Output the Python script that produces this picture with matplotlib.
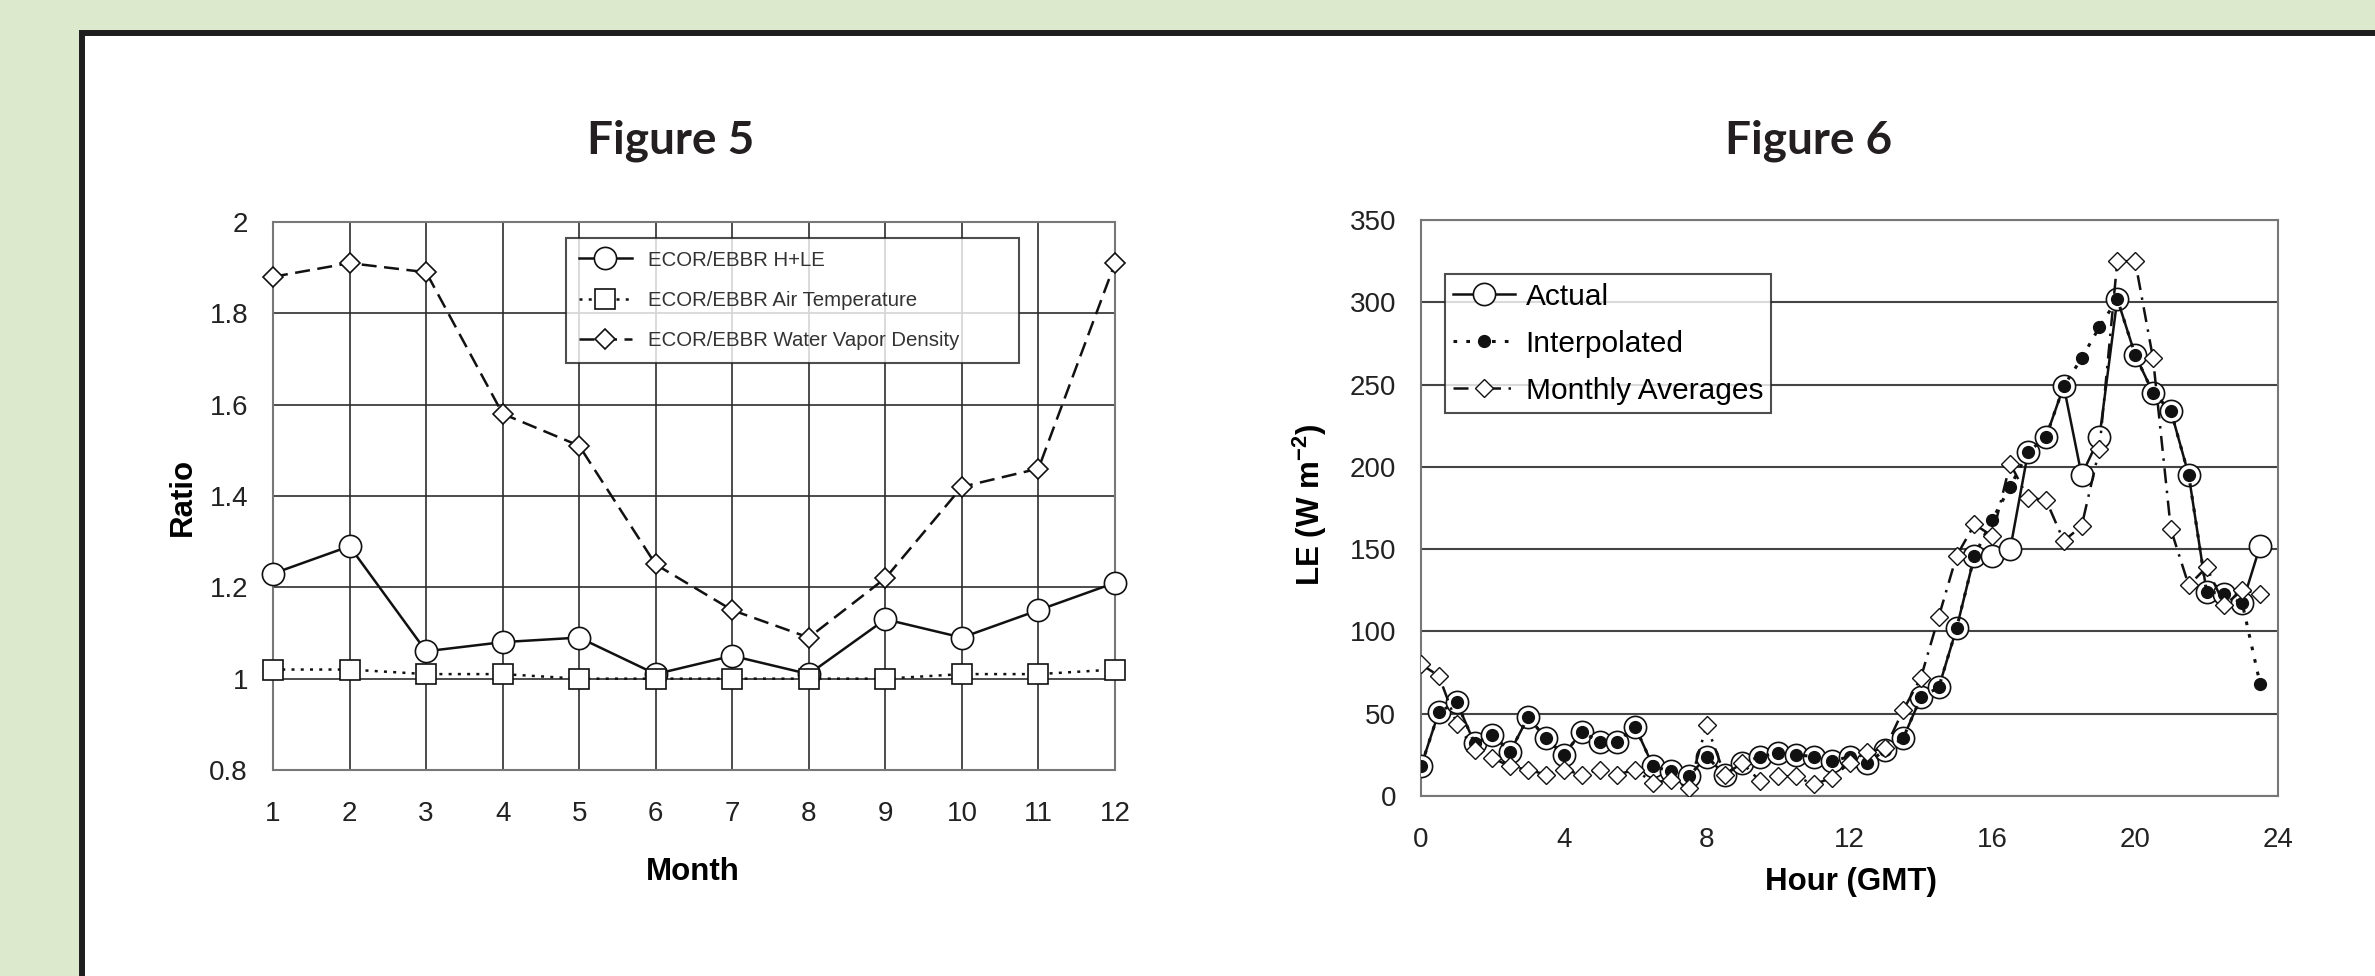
import matplotlib
matplotlib.use("Agg")
from matplotlib import pyplot as plt
from matplotlib.patches import Rectangle

plt.rcParams['font.family'] = ['Liberation Sans', 'DejaVu Sans']

# Figure 5 data
months = [1, 2, 3, 4, 5, 6, 7, 8, 9, 10, 11, 12]
hle_ratio = [1.23, 1.29, 1.06, 1.08, 1.09, 1.01, 1.05, 1.01, 1.13, 1.09, 1.15, 1.21]
air_temp_ratio = [1.02, 1.02, 1.01, 1.01, 1.00, 1.00, 1.00, 1.00, 1.00, 1.01, 1.01, 1.02]
vapor_ratio = [1.88, 1.91, 1.89, 1.58, 1.51, 1.25, 1.15, 1.09, 1.22, 1.42, 1.46, 1.91]

# Figure 6 data (half-hourly)
hours = [0, 0.5, 1, 1.5, 2, 2.5, 3, 3.5, 4, 4.5, 5, 5.5,
         6, 6.5, 7, 7.5, 8, 8.5, 9, 9.5, 10, 10.5, 11, 11.5,
         12, 12.5, 13, 13.5, 14, 14.5, 15, 15.5, 16, 16.5, 17, 17.5,
         18, 18.5, 19, 19.5, 20, 20.5, 21, 21.5, 22, 22.5, 23, 23.5]
le_actual = [18, 51, 57, 32, 37, 27, 48, 35, 25, 39, 33, 33,
             42, 18, 15, 12, 24, 13, 20, 24, 26, 25, 24, 21,
             24, 20, 28, 35, 60, 66, 102, 146, 146, 150, 209, 218,
             249, 195, 218, 302, 268, 245, 234, 195, 124, 123, 117, 152]
le_interp = [18, 51, 57, 32, 37, 27, 48, 35, 25, 39, 33, 33,
             42, 18, 15, 12, 24, 13, 20, 24, 26, 25, 24, 21,
             24, 20, 28, 35, 60, 66, 102, 146, 168, 188, 209, 218,
             249, 266, 285, 302, 268, 245, 234, 195, 124, 123, 117, 68]
le_monthly = [80, 73, 44, 28, 23, 18, 16, 13, 16, 13, 16, 13,
              16, 8, 10, 5, 43, 13, 20, 9, 12, 12, 7, 11,
              20, 27, 29, 52, 72, 109, 146, 165, 158, 202, 181, 180,
              155, 164, 211, 325, 325, 266, 162, 128, 139, 116, 125, 123]

W, H = 2375, 976
fig = plt.figure(figsize=(W / 100, H / 100), dpi=100, facecolor='#dde9cc')

# white panel with thick dark border
fig.patches.append(Rectangle((82 / W, -0.1), 1.2, (1 - 33 / H) + 0.1,
                             transform=fig.transFigure, facecolor='white',
                             edgecolor='#1e1e1e', lw=4.3, zorder=-5))

ax1 = fig.add_axes([273 / W, 1 - 770 / H, 842 / W, 548 / H])
ax2 = fig.add_axes([1421 / W, 1 - 796 / H, 857 / W, 576 / H])

title_kw = dict(ha='center', va='baseline', fontsize=33, fontweight='bold',
                family=['Lato', 'DejaVu Sans'], color='#231f20')
fig.text(671 / W, 1 - 154 / H, 'Figure 5', **title_kw)
fig.text(1809 / W, 1 - 154 / H, 'Figure 6', **title_kw)

# ---- Figure 5
ax1.plot(months, hle_ratio, color='#111111', lw=1.8, marker='o', ms=16,
         mfc='white', mec='#111111', mew=1.2, label='ECOR/EBBR H+LE',
         zorder=3, clip_on=False)
ax1.plot(months, air_temp_ratio, color='#111111', lw=1.8, ls=(0, (1.2, 2.5)),
         marker='s', ms=14, mfc='white', mec='#111111', mew=1.2,
         label='ECOR/EBBR Air Temperature', zorder=3, clip_on=False)
ax1.plot(months, vapor_ratio, color='#111111', lw=1.8, ls=(0, (6, 3)),
         marker='D', ms=10.5, mfc='white', mec='#111111', mew=1.2,
         label='ECOR/EBBR Water Vapor Density', zorder=3, clip_on=False)

ax1.set_xlim(1, 12)
ax1.set_ylim(0.8, 2.0)
ax1.set_xticks(months)
ax1.set_yticks([0.8, 1.0, 1.2, 1.4, 1.6, 1.8, 2.0])
ax1.set_yticklabels(['0.8', '1', '1.2', '1.4', '1.6', '1.8', '2'])
ax1.grid(True, color='#2e2e2e', lw=1.2)
ax1.set_axisbelow(True)
ax1.set_xlabel('Month', fontsize=22.5, fontweight='bold', va='center')
ax1.xaxis.set_label_coords(0.498, -0.186)
ax1.set_ylabel('Ratio', fontsize=22.5, fontweight='bold', va='center')
ax1.yaxis.set_label_coords(-0.107, 0.498)

leg1 = ax1.legend(loc='upper left', bbox_to_anchor=(0.348, 0.752, 0.538, 0.219),
                  mode='expand', fontsize=14.7,
                  frameon=True, fancybox=False, edgecolor='#222222', numpoints=1,
                  handlelength=2.6, handletextpad=0.8, labelspacing=1.05,
                  borderpad=0.62, borderaxespad=0)
leg1.get_frame().set_linewidth(1.5)
for t in leg1.get_texts():
    t.set_color('#333333')

# ---- Figure 6
ax2.plot(hours, le_actual, color='#111111', lw=1.8, marker='o', ms=16,
         mfc='white', mec='#111111', mew=1.2, label='Actual', zorder=3)
ax2.plot(hours, le_interp, color='#111111', lw=2.2, ls=(0, (1.2, 3)),
         marker='o', ms=8.5, mfc='#111111', mec='#111111',
         label='Interpolated', zorder=4)
ax2.plot(hours, le_monthly, color='#111111', lw=1.8, ls=(0, (6, 3, 1, 3)),
         marker='D', ms=9, mfc='white', mec='#111111', mew=1.0,
         label='Monthly Averages', zorder=5)

ax2.set_xlim(0, 24)
ax2.set_ylim(0, 350)
ax2.set_xticks([0, 4, 8, 12, 16, 20, 24])
ax2.set_yticks([0, 50, 100, 150, 200, 250, 300, 350])
ax2.yaxis.grid(True, color='#444444', lw=1.5)
ax2.set_axisbelow(True)
ax2.set_xlabel('Hour (GMT)', fontsize=22.5, fontweight='bold', va='center')
ax2.xaxis.set_label_coords(0.502, -0.149)
ax2.set_ylabel(r'LE (W m$^{\mathregular{-2}}$)', fontsize=22.5,
               fontweight='bold', va='center')
ax2.yaxis.set_label_coords(-0.13, 0.505)

leg2 = ax2.legend(loc='upper left', bbox_to_anchor=(0.028, 0.906), fontsize=21.5,
                  frameon=True, fancybox=False, edgecolor='#222222', numpoints=1,
                  handlelength=2.07, handletextpad=0.35, labelspacing=0.64,
                  borderpad=0.28, borderaxespad=0)
leg2.get_frame().set_linewidth(1.5)

for ax in (ax1, ax2):
    ax.set_facecolor('white')
    ax.tick_params(length=0, labelsize=20, colors='#222222')
    ax.tick_params(axis='x', pad=22)
    ax.tick_params(axis='y', pad=18)
    for s in ax.spines.values():
        s.set_color('#777777')
        s.set_linewidth(1.5)

fig.savefig('out.png', dpi=100, facecolor=fig.get_facecolor())
